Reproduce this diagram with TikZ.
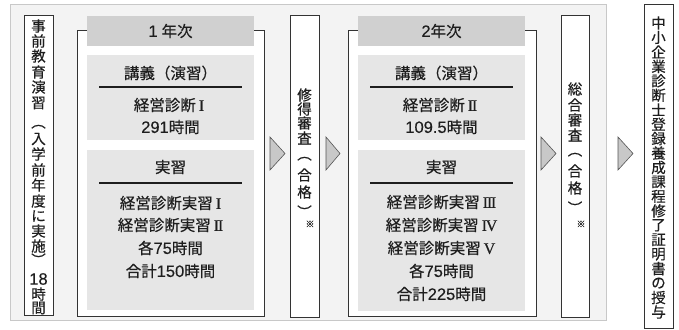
\documentclass[tikz,border=0pt]{standalone}
\usepackage{fontspec}
\newfontfamily\jp[FakeBold=0.4]{Noto Sans CJK JP}
\newfontfamily\lat[FakeBold=0.25]{Liberation Sans}
\newfontfamily\rmn[FakeBold=0.3]{Liberation Serif}
\newcommand\dg[1]{{\lat\fontsize{16.5}{16.5}\selectfont #1}}
\newcommand\rn[1]{\hspace{3pt}{\rmn\fontsize{16}{16}\selectfont\addfontfeature{LetterSpace=-8}#1}}
\definecolor{panel}{HTML}{F3F3F3}
\definecolor{panelline}{HTML}{C8C8C8}
\definecolor{hdr}{HTML}{D0D0D0}
\definecolor{inner}{HTML}{E6E6E6}
\definecolor{ink}{HTML}{1E1E1E}
\definecolor{frm}{HTML}{333333}
\definecolor{trifill}{HTML}{C8C8C8}
\definecolor{triline}{HTML}{555555}
\begin{document}
\begin{tikzpicture}[x=1pt,y=-1pt,
  txt/.style={font=\jp\fontsize{15.5}{15.5}\selectfont, text=ink, inner sep=0pt},
  vch/.style={font=\jp\fontsize{14.5}{14.5}\selectfont, text=ink, inner sep=0pt},
  smallch/.style={font=\jp\fontsize{9}{9}\selectfont, text=ink, inner sep=0pt},
  framebox/.style={draw=frm, fill=white, line width=0.8pt},
  hdrbox/.style={fill=hdr},
  inbox/.style={fill=inner},
  rulel/.style={draw=ink, line width=1.1pt},
  tri/.style={fill=trifill, draw=triline, line width=0.6pt, line join=miter}
]
\useasboundingbox (0,0) rectangle (679,329);
% outer panel
\draw[panelline, fill=panel, line width=0.8pt] (10,4) rectangle (606,320);
% left box
\draw[framebox] (24,15) rectangle (53,315);
\foreach \c/\yy [count=\i] in {事/26,前/41,教/56,育/72,演/87,習/103,入/139,学/154,前/170,年/185,度/201,に/216,実/231,施/246,時/294,間/308}
  \node[vch] (pre\i) at (38.5,\yy) {\c};
\node[vch, rotate=-90] (preo) at (38.5,122) {（};
\node[vch, rotate=-90] (prec) at (38.5,260) {）};
\node[inner sep=0pt, text=ink] (pre18) at (38.5,279) {\dg{18}};
% year 1
\draw[framebox] (77,30) rectangle (264,316);
\fill[hdrbox] (87,16) rectangle (254,46);
\node[txt] (y1h) at (170.5,31) {\dg{1}\hspace{4pt}年次};
\fill[inbox] (87,55) rectangle (254,140);
\node[txt] (y1l) at (170.5,73) {講義（演習）};
\draw[rulel] (99,87) -- (242,87);
\node[txt] (y1l1) at (169,105) {経営診断\rn{I}};
\node[txt] (y1l2) at (170.5,127) {\dg{291}時間};
\fill[inbox] (87,150) rectangle (254,310);
\node[txt] (y1p) at (170.5,167) {実習};
\draw[rulel] (99,183) -- (242,183);
\node[txt] (y1p1) at (170.5,203) {経営診断実習\rn{I}};
\node[txt] (y1p2) at (170.5,225) {経営診断実習\rn{II}};
\node[txt] (y1p3) at (170.5,248) {各\dg{75}時間};
\node[txt] (y1p4) at (170.5,271) {合計\dg{150}時間};
% arrow 1
\draw[tri] (270,137) -- (285,153.5) -- (270,170) -- cycle;
% shutoku box
\draw[framebox] (290,15) rectangle (319,317);
\foreach \c/\yy [count=\i] in {修/95,得/109,審/123,査/138,合/175,格/192}
  \node[vch] (sh\i) at (304.5,\yy) {\c};
\node[vch, rotate=-90] (sho) at (304.5,154) {（};
\node[vch, rotate=-90] (shc) at (304.5,212) {）};
\node[smallch] (shk) at (310,224) {※};
% arrow 2
\draw[tri] (326,137) -- (340,153.5) -- (326,170) -- cycle;
% year 2
\draw[framebox] (348,30) rectangle (536,316);
\fill[hdrbox] (358,16) rectangle (525,46);
\node[txt] (y2h) at (441.5,31) {\dg{2}年次};
\fill[inbox] (358,55) rectangle (525,140);
\node[txt] (y2l) at (441.5,73) {講義（演習）};
\draw[rulel] (370,87) -- (513,87);
\node[txt] (y2l1) at (440,105) {経営診断\rn{II}};
\node[txt] (y2l2) at (441.5,127) {\dg{109.5}時間};
\fill[inbox] (358,150) rectangle (525,311);
\node[txt] (y2p) at (441.5,167) {実習};
\draw[rulel] (370,183) -- (513,183);
\node[txt] (y2p1) at (441.5,202) {経営診断実習\rn{III}};
\node[txt] (y2p2) at (441.5,225) {経営診断実習\rn{IV}};
\node[txt] (y2p3) at (441.5,248) {経営診断実習\rn{V}};
\node[txt] (y2p4) at (441.5,271) {各\dg{75}時間};
\node[txt] (y2p5) at (441.5,294) {合計\dg{225}時間};
% arrow 3
\draw[tri] (541,137) -- (556,153.5) -- (541,170) -- cycle;
% sogo box
\draw[framebox] (561,15) rectangle (589,317);
\foreach \c/\yy [count=\i] in {総/89,合/105,審/120,査/135,合/171,格/188}
  \node[vch] (so\i) at (575,\yy) {\c};
\node[vch, rotate=-90] (soo) at (575,150) {（};
\node[vch, rotate=-90] (soc) at (575,208) {）};
\node[smallch] (sok) at (581,224) {※};
% arrow 4
\draw[tri] (618,137) -- (633,153.5) -- (618,170) -- cycle;
% certificate box
\draw[framebox] (644,4) rectangle (673,328);
\foreach \c [count=\i] in {中,小,企,業,診,断,士,登,録,養,成,課,程,修,了,証,明,書,の,授,与}
  \node[vch] (ce\i) at (658.5,{23+(\i-1)*14.45}) {\c};
\end{tikzpicture}
\end{document}
